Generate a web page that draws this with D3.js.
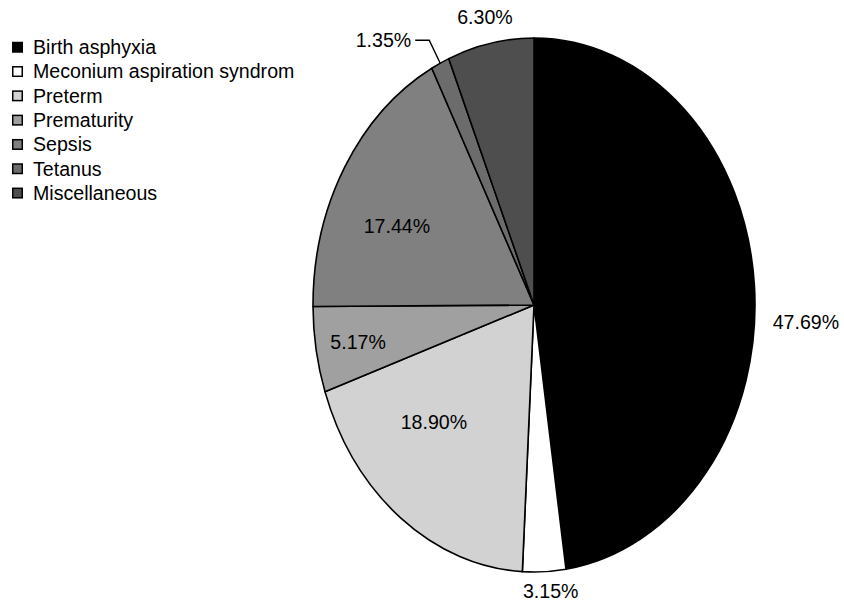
<!DOCTYPE html>
<html>
<head>
<meta charset="utf-8">
<script src="https://cdn.jsdelivr.net/npm/d3@7/dist/d3.min.js"></script>
<style>
  html, body { margin: 0; padding: 0; background: #fff; }
  svg { display: block; font-family: "Liberation Sans", Arial, sans-serif; }
</style>
</head>
<body>
<svg id="chart" width="844" height="603"></svg>
<script>
// Causes of neonatal death (share of cases, %)
const causes = ["Birth asphyxia", "Meconium aspiration syndrom", "Preterm", "Prematurity", "Sepsis", "Tetanus", "Miscellaneous"];
const shares = [47.69, 3.15, 18.90, 5.17, 17.44, 1.35, 6.30];
const fills  = ["#000000", "#ffffff", "#d2d2d2", "#a0a0a0", "#808080", "#6c6c6c", "#4e4e4e"];

// Label placement around the pie: angle shift (deg) from slice middle and radial factor
const labelLayout = [
  { shift: 7.1,  f: 1.232 },
  { shift: -1.4, f: 1.074 },
  { shift: 8.9,  f: 0.63 },
  { shift: -0.3, f: 0.808 },
  { shift: -5.6, f: 0.687 },
  { shift: 0,    f: 1.0, leader: true },
  { shift: -0.3, f: 1.10 }
];

const svg = d3.select("#chart");
const cx = 534, cy = 305, rx = 221, ry = 267;
const fontSize = 19.6;

const pie = d3.pie().sort(null).value(d => d);
const arcs = pie(shares);
const arc = d3.arc().innerRadius(0).outerRadius(ry);

// elliptical pie: circle of radius ry squeezed horizontally
const g = svg.append("g")
  .attr("transform", `translate(${cx},${cy}) scale(${rx / ry},1)`);

g.selectAll("path")
  .data(arcs)
  .join("path")
  .attr("d", arc)
  .attr("fill", (d, i) => fills[i])
  .attr("stroke", "#000")
  .attr("stroke-width", 1.6)
  .attr("stroke-linejoin", "round")
  .attr("vector-effect", "non-scaling-stroke");

function ellipsePoint(angleRad, f) {
  return [cx + rx * f * Math.sin(angleRad), cy - ry * f * Math.cos(angleRad)];
}

const fmt = v => v.toFixed(2) + "%";

arcs.forEach((a, i) => {
  const lay = labelLayout[i];
  const mid = (a.startAngle + a.endAngle) / 2 + lay.shift * Math.PI / 180;
  if (lay.leader) {
    const [x0, y0] = ellipsePoint(mid, lay.f);
    const elbow = [x0 - 11, y0 - 23];
    const end = [elbow[0] - 14, elbow[1]];
    svg.append("polyline")
      .attr("points", [[x0, y0], elbow, end].map(p => p.join(",")).join(" "))
      .attr("fill", "none")
      .attr("stroke", "#000")
      .attr("stroke-width", 1.4);
    svg.append("text")
      .attr("x", end[0] - 4)
      .attr("y", end[1])
      .attr("dy", "0.35em")
      .attr("text-anchor", "end")
      .attr("font-size", fontSize)
      .attr("fill", "#000")
      .text(fmt(shares[i]));
  } else {
    const [x, y] = ellipsePoint(mid, lay.f);
    svg.append("text")
      .attr("x", x)
      .attr("y", y)
      .attr("dy", "0.35em")
      .attr("text-anchor", "middle")
      .attr("font-size", fontSize)
      .attr("fill", "#000")
      .text(fmt(shares[i]));
  }
});

// Legend
const legend = svg.append("g").attr("transform", "translate(12,47)");
const rows = legend.selectAll("g")
  .data(causes)
  .join("g")
  .attr("transform", (d, i) => `translate(0,${i * 24.3})`);

rows.append("rect")
  .attr("x", 0.75).attr("y", -4.5)
  .attr("width", 9.5).attr("height", 9.5)
  .attr("fill", (d, i) => fills[i])
  .attr("stroke", "#000")
  .attr("stroke-width", 1.5);

rows.append("text")
  .attr("x", 21)
  .attr("y", 0)
  .attr("dy", "0.36em")
  .attr("font-size", fontSize)
  .attr("fill", "#000")
  .text(d => d);
</script>
</body>
</html>
